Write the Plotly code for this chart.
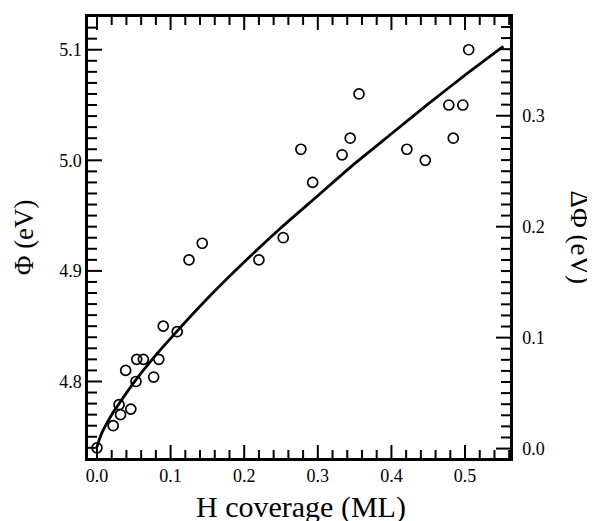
import plotly.graph_objects as go

# Measured data (H coverage in ML, work function Phi in eV)
coverage = [0.0, 0.022, 0.030, 0.032, 0.046, 0.039, 0.053, 0.054, 0.063, 0.077,
            0.084, 0.090, 0.109, 0.125, 0.143, 0.220, 0.253, 0.277, 0.293, 0.333,
            0.344, 0.356, 0.421, 0.446, 0.478, 0.484, 0.497, 0.505]
phi = [4.740, 4.760, 4.779, 4.770, 4.775, 4.810, 4.800, 4.820, 4.820, 4.804,
       4.820, 4.850, 4.845, 4.910, 4.925, 4.910, 4.930, 5.010, 4.980, 5.005,
       5.020, 5.060, 5.010, 5.000, 5.050, 5.020, 5.050, 5.100]

# Fit curve
fit_x = [0.0, 0.005, 0.01, 0.02, 0.03, 0.05, 0.075, 0.10, 0.15, 0.20, 0.25,
         0.30, 0.35, 0.40, 0.45, 0.50, 0.552]
fit_y = [4.741, 4.751, 4.758, 4.770, 4.780, 4.799, 4.820, 4.839, 4.875, 4.908,
         4.939, 4.968, 4.997, 5.024, 5.051, 5.077, 5.103]

# Tick values
x_major = [0.0, 0.1, 0.2, 0.3, 0.4, 0.5]
phi_major = [4.8, 4.9, 5.0, 5.1]
dphi_major = [0.0, 0.1, 0.2, 0.3]
x_minor = [round(0.02 * i, 2) for i in range(29)]
phi_minor = [round(4.74 + 0.01 * i, 2) for i in range(39)]
dphi_minor = [round(0.01 * i, 2) for i in range(39)]

FONT = "Liberation Serif, Times New Roman, serif"
INK = "black"
tickfont = dict(family=FONT, size=18, color=INK)

fig = go.Figure()
fig.add_trace(go.Scatter(x=fit_x, y=fit_y, mode="lines",
                         line=dict(color=INK, width=2.8, shape="spline", smoothing=0.6),
                         showlegend=False))
fig.add_trace(go.Scatter(x=coverage, y=phi, mode="markers",
                         marker=dict(symbol="circle-open", size=10, color=INK,
                                     line=dict(width=1.7, color=INK)),
                         showlegend=False))
# invisible trace to activate the right axis
fig.add_trace(go.Scatter(x=[0.0], y=[0.0], yaxis="y2", mode="markers",
                         marker=dict(opacity=0), showlegend=False, hoverinfo="skip"))

# Inside tick marks drawn as pixel-sized shapes anchored on the axes
shapes = []
tick_line = dict(color=INK, width=2)
for v in x_minor:
    n = 13 if any(abs(v - m) < 1e-9 for m in x_major) else 8
    shapes.append(dict(type="line", xref="x", yref="paper", ysizemode="pixel",
                       yanchor=0, x0=v, x1=v, y0=0, y1=n, line=tick_line))
    shapes.append(dict(type="line", xref="x", yref="paper", ysizemode="pixel",
                       yanchor=1, x0=v, x1=v, y0=0, y1=-n, line=tick_line))
for v in phi_minor:
    n = 14 if any(abs(v - m) < 1e-9 for m in phi_major) else 9
    shapes.append(dict(type="line", xref="paper", yref="y", xsizemode="pixel",
                       xanchor=0, x0=0, x1=n, y0=v, y1=v, line=tick_line))
for v in dphi_minor:
    n = 14 if any(abs(v - m) < 1e-9 for m in dphi_major) else 9
    shapes.append(dict(type="line", xref="paper", yref="y2", xsizemode="pixel",
                       xanchor=1, x0=0, x1=-n, y0=v, y1=v, line=tick_line))

fig.update_layout(
    width=587, height=513,
    margin=dict(l=80, r=85, t=6, b=63),
    paper_bgcolor="white", plot_bgcolor="white",
    shapes=shapes,
    xaxis=dict(range=[-0.0122, 0.5611], tickmode="array", tickvals=x_major,
               ticktext=[f"{v:.1f}" for v in x_major], ticks="",
               showline=True, linewidth=2.5, linecolor=INK, mirror=True,
               showgrid=False, zeroline=False, tickfont=tickfont),
    yaxis=dict(range=[4.7308, 5.1296], tickmode="array", tickvals=phi_major,
               ticktext=[f"{v:.1f}" for v in phi_major], ticks="",
               showline=True, linewidth=2.5, linecolor=INK,
               showgrid=False, zeroline=False, tickfont=tickfont),
    yaxis2=dict(range=[-0.0085, 0.389], overlaying="y", side="right",
                tickmode="array", tickvals=dphi_major,
                ticktext=[f"{v:.1f}" for v in dphi_major], ticks="",
                showline=True, linewidth=2.5, linecolor=INK,
                ticklabelstandoff=6,
                showgrid=False, zeroline=False, tickfont=tickfont),
    annotations=[
        dict(text="H coverage (ML)", xref="paper", yref="paper", x=0.505, y=-0.110,
             xanchor="center", yanchor="middle", showarrow=False,
             font=dict(family=FONT, size=30, color=INK)),
        dict(text="Φ (eV)", xref="paper", yref="paper", x=-0.152, y=0.50,
             xanchor="center", yanchor="middle", showarrow=False, textangle=-90,
             font=dict(family=FONT, size=27, color=INK)),
        dict(text="ΔΦ (eV)", xref="paper", yref="paper", x=1.168, y=0.50,
             xanchor="center", yanchor="middle", showarrow=False, textangle=90,
             font=dict(family=FONT, size=27, color=INK)),
    ],
)

fig.write_html("out.html")
